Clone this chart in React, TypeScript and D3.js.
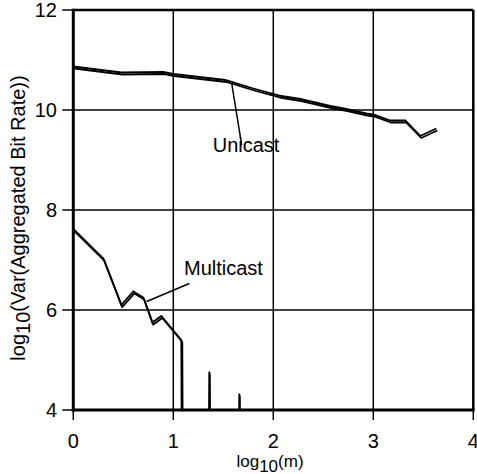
import React from "react";
import * as d3 from "d3";

// log10(m) positions and log10 variance.
// Each curve is drawn as a pair of close traces, as in the original.
const unicastX = [0, 0.48, 0.9, 1.0, 1.52, 1.8, 2.08, 2.27, 2.57, 2.73, 2.93, 3.0, 3.17, 3.32, 3.47, 3.63];
const unicastA = [10.87, 10.75, 10.76, 10.72, 10.6, 10.43, 10.28, 10.22, 10.08, 10.02, 9.93, 9.91, 9.79, 9.79, 9.48, 9.63];
const unicastX2 = [0.01, 0.49, 0.91, 1.01, 1.53, 1.81, 2.09, 2.28, 2.58, 2.74, 2.94, 3.01, 3.18, 3.33, 3.48, 3.64];
const unicastB = [10.83, 10.71, 10.72, 10.68, 10.56, 10.39, 10.24, 10.18, 10.04, 9.98, 9.89, 9.87, 9.75, 9.75, 9.44, 9.59];

// values below 4 are off the chart (zero variance), the plot clips them
const multicastX = [0, 0.3, 0.48, 0.6, 0.7, 0.79, 0.88, 1.08, 1.085, 1.355, 1.36, 1.365, 1.655, 1.66, 1.665];
const multicastA = [7.62, 7.03, 6.1, 6.37, 6.25, 5.75, 5.88, 5.4, 3.0, 3.0, 4.77, 3.0, 3.0, 4.33, 3.0];
const multicastX2 = [0.01, 0.31, 0.49, 0.61, 0.71, 0.8, 0.89, 1.09, 1.095, 1.36, 1.365, 1.37, 1.66, 1.665, 1.67];
const multicastB = [7.58, 6.99, 6.06, 6.33, 6.21, 5.71, 5.84, 5.36, 3.0, 3.0, 4.73, 3.0, 3.0, 4.29, 3.0];

const xTicks = [0, 1, 2, 3, 4];
const yTicks = [4, 6, 8, 10, 12];

// callout labels: text anchor point and leader line ends, in data units
const callouts = [
  { label: "Unicast", tx: 1.394, ty: 9.17, x1: 1.584, y1: 10.53, x2: 1.684, y2: 9.3 },
  { label: "Multicast", tx: 1.107, ty: 6.7, x1: 1.16, y1: 6.53, x2: 0.734, y2: 6.17 },
];

const W = 477;
const H = 474;
const FONT = "Arial, 'Liberation Sans', sans-serif";

const x = d3.scaleLinear().domain([0, 4]).range([73.3, 473.3]);
const y = d3.scaleLinear().domain([4, 12]).range([410, 10]);

const toPts = (xs: number[], ys: number[]) => xs.map((v, i) => [v, ys[i]] as [number, number]);
const line = d3
  .line<[number, number]>()
  .x((d) => x(d[0]))
  .y((d) => y(d[1]));

const traces = [
  toPts(unicastX, unicastA),
  toPts(unicastX2, unicastB),
  toPts(multicastX, multicastA),
  toPts(multicastX2, multicastB),
];

export default function App() {
  const [x0, x1] = x.range();
  const [y0, y1] = y.range();
  return (
    <svg
      width={W}
      height={H}
      style={{ position: "absolute", left: 0, top: 0, background: "#fff" }}
      fontFamily={FONT}
    >
      <defs>
        <clipPath id="plot">
          <rect x={x0} y={y1} width={x1 - x0} height={y0 - y1} />
        </clipPath>
      </defs>

      {/* grid */}
      {xTicks.slice(1, -1).map((t) => (
        <line key={"gx" + t} x1={x(t)} x2={x(t)} y1={y1} y2={y0} stroke="#000" strokeWidth={1.5} />
      ))}
      {yTicks.slice(1, -1).map((t) => (
        <line key={"gy" + t} x1={x0} x2={x1} y1={y(t)} y2={y(t)} stroke="#000" strokeWidth={1.5} />
      ))}

      {/* data */}
      <g clipPath="url(#plot)">
        {traces.map((pts, i) => (
          <path key={i} d={line(pts) || ""} fill="none" stroke="#000" strokeWidth={1.8} strokeLinejoin="miter" />
        ))}
      </g>

      {/* callouts */}
      {callouts.map((c) => (
        <g key={c.label}>
          <line x1={x(c.x1)} y1={y(c.y1)} x2={x(c.x2)} y2={y(c.y2)} stroke="#000" strokeWidth={1.5} />
          <text x={x(c.tx)} y={y(c.ty)} fontSize={20} fill="#000">
            {c.label}
          </text>
        </g>
      ))}

      {/* frame */}
      <line x1={x0} x2={x1} y1={y1} y2={y1} stroke="#000" strokeWidth={2.5} />
      <line x1={x1} x2={x1} y1={y1} y2={y0} stroke="#000" strokeWidth={2.5} />
      <line x1={x0} x2={x0} y1={y1 - 1.25} y2={y0 + 1.5} stroke="#000" strokeWidth={3} />
      <line x1={x0 - 1.5} x2={x1 + 1.25} y1={y0} y2={y0} stroke="#000" strokeWidth={3} />

      {/* y axis */}
      {yTicks.map((t) => (
        <g key={"yt" + t}>
          <line x1={x0 - 11} x2={x0} y1={y(t)} y2={y(t)} stroke="#000" strokeWidth={1.5} />
          <text x={57} y={y(t) + 7} textAnchor="end" fontSize={20} fill="#000">
            {t}
          </text>
        </g>
      ))}

      {/* x axis */}
      {xTicks.map((t) => (
        <g key={"xt" + t}>
          <line x1={x(t)} x2={x(t)} y1={y0} y2={y0 + 10} stroke="#000" strokeWidth={1.5} />
          <text x={x(t)} y={448} textAnchor="middle" fontSize={20} fill="#000">
            {t}
          </text>
        </g>
      ))}

      <text x={270} y={466.5} textAnchor="middle" fontSize={17} fill="#000">
        log
        <tspan dy={5}>10</tspan>
        <tspan dy={-5}>(m)</tspan>
      </text>

      <text transform="translate(25,218) rotate(-90)" textAnchor="middle" fontSize={20} fill="#000">
        log
        <tspan dy={5}>10</tspan>
        <tspan dy={-5}>(Var(Aggregated Bit Rate))</tspan>
      </text>
    </svg>
  );
}
